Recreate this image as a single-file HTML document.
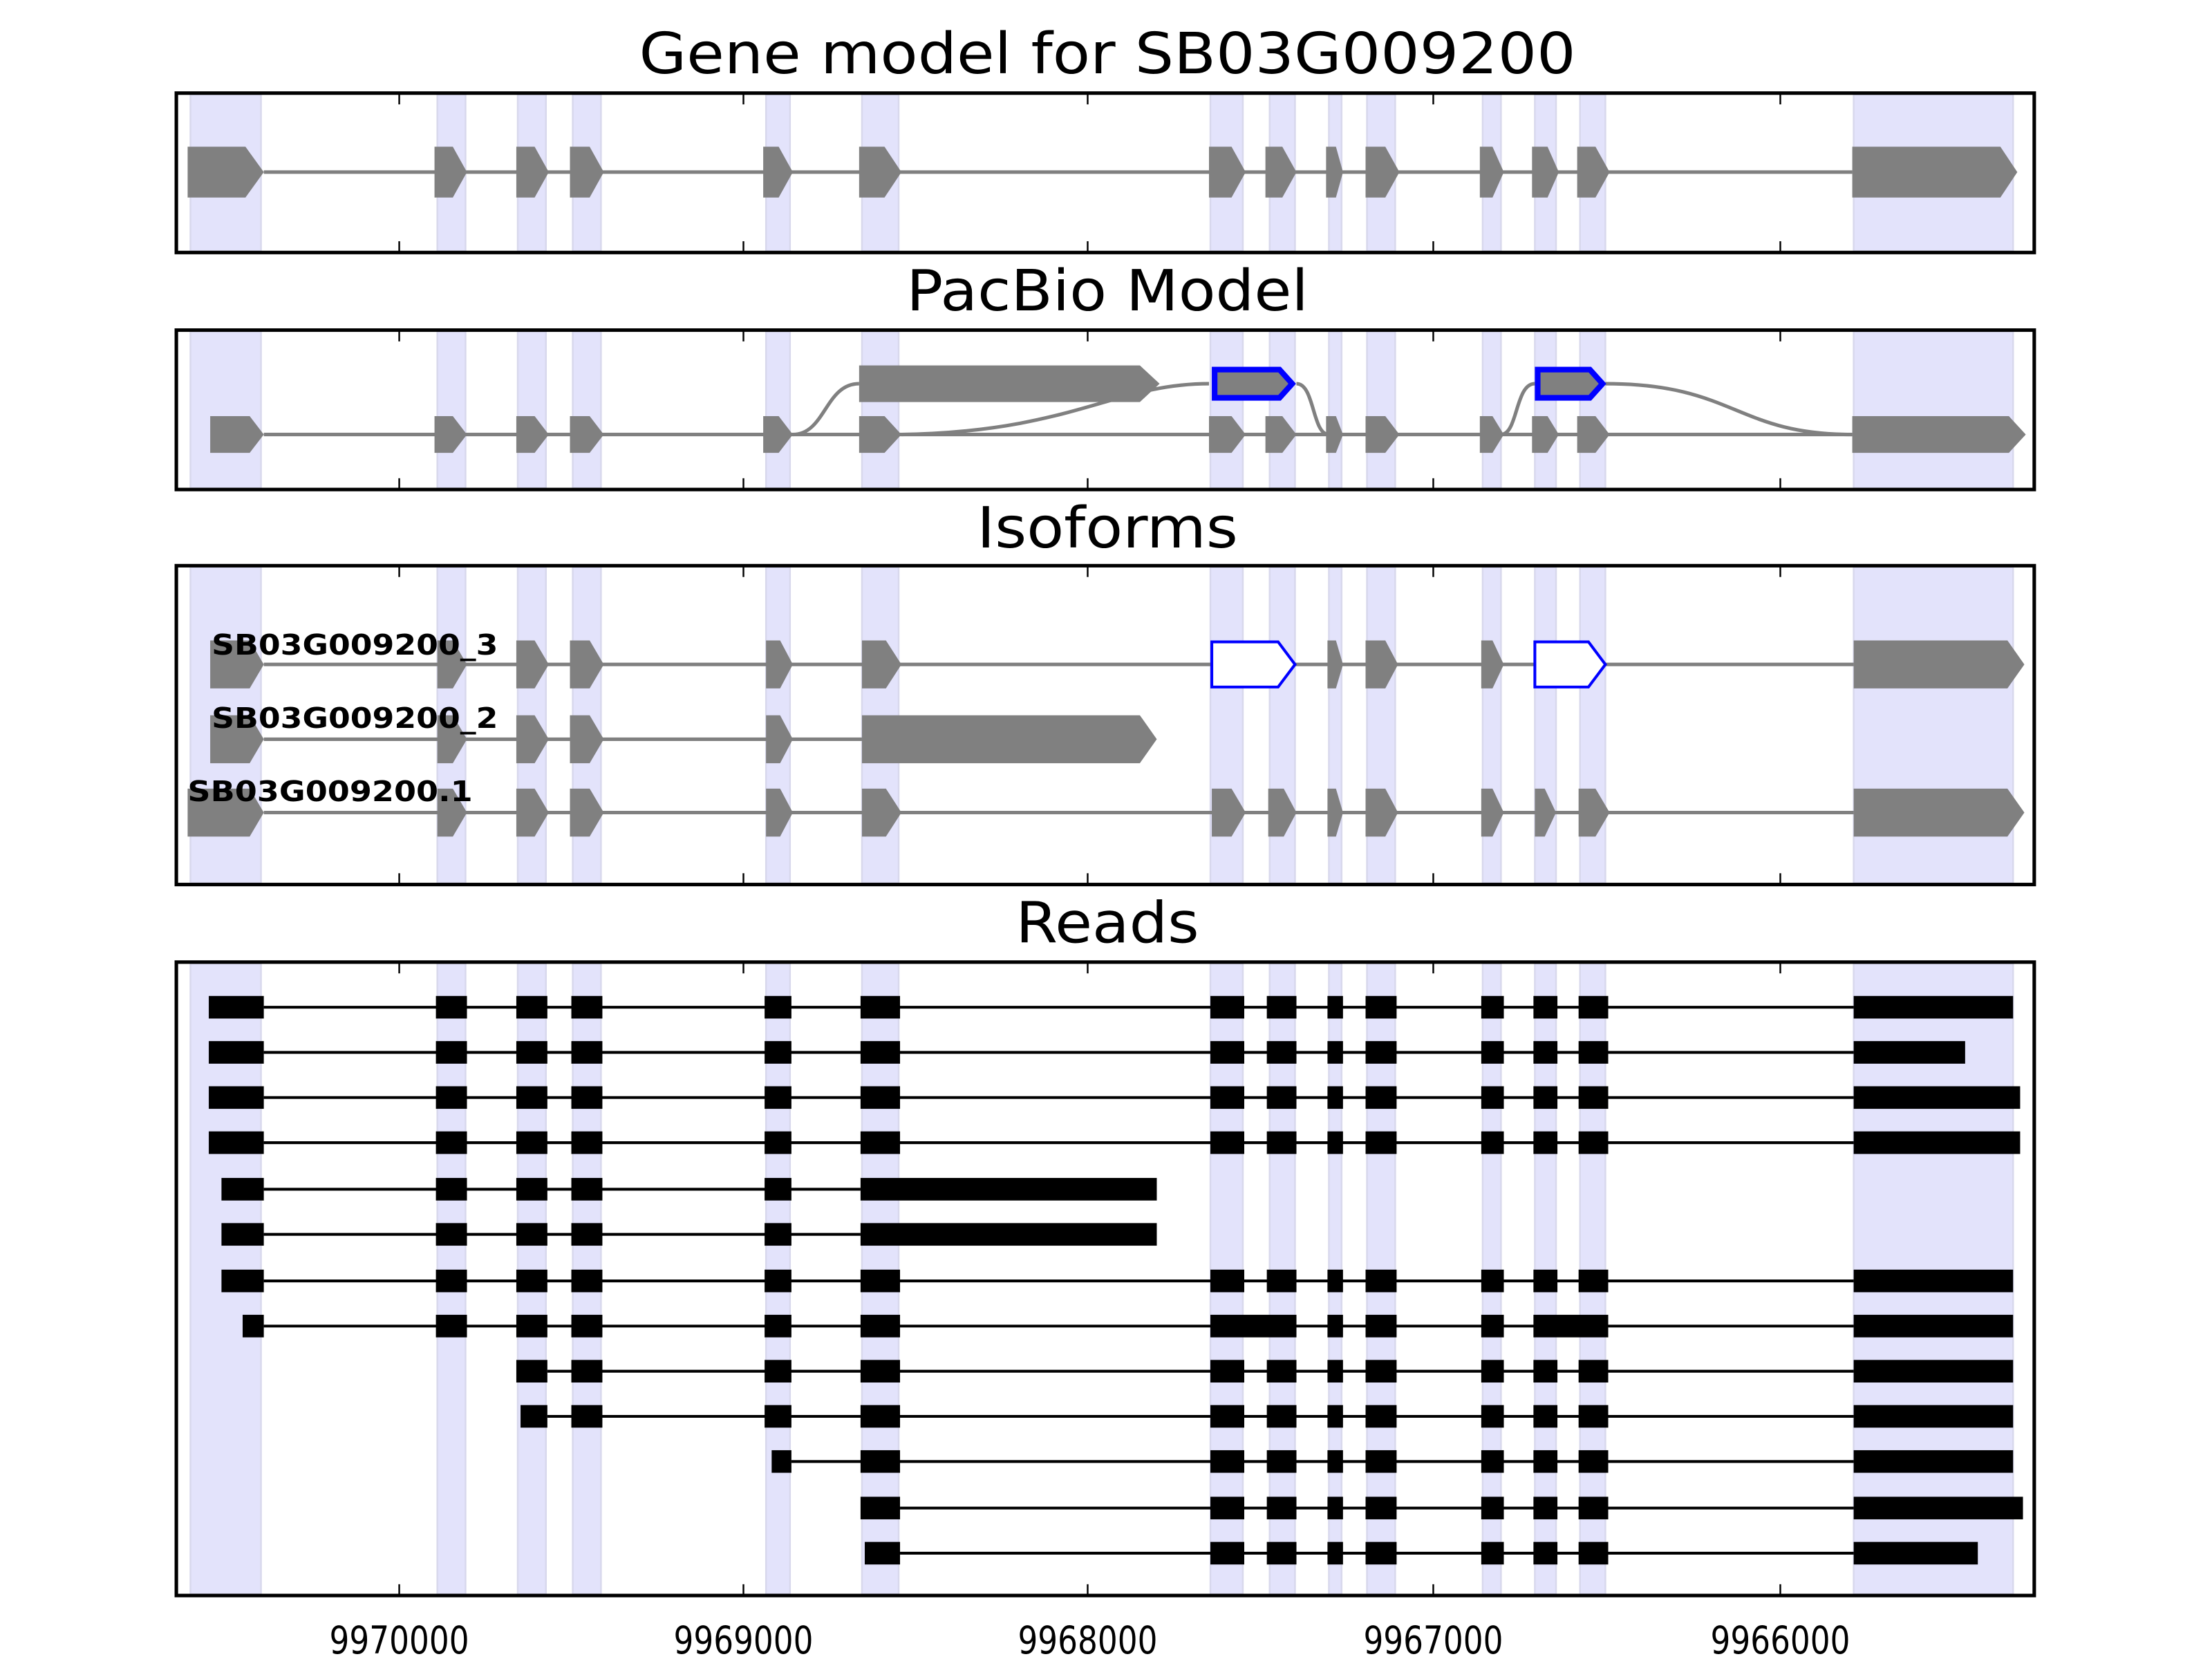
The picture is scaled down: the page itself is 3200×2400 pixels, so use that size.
<!DOCTYPE html>
<html><head><meta charset="utf-8"><style>
html,body{margin:0;padding:0;background:#fff;}
svg{display:block;}
</style></head><body>
<svg width="3200" height="2400" viewBox="0 0 1568 1176" xmlns="http://www.w3.org/2000/svg" font-family="'DejaVu Sans','Liberation Sans',sans-serif">
<text x="785" y="52" font-size="40" text-anchor="middle" textLength="664" lengthAdjust="spacingAndGlyphs">Gene model for SB03G009200</text>
<text x="785" y="220" font-size="40" text-anchor="middle" textLength="285" lengthAdjust="spacingAndGlyphs">PacBio Model</text>
<text x="785" y="388" font-size="40" text-anchor="middle" textLength="185" lengthAdjust="spacingAndGlyphs">Isoforms</text>
<text x="785" y="668" font-size="40" text-anchor="middle" textLength="130" lengthAdjust="spacingAndGlyphs">Reads</text>

<g fill="#e3e3fb" stroke="#d8d8ec" stroke-width="1.2">
<g id="cols1">
<rect x="135" y="67" width="50" height="111"/><rect x="310" y="67" width="20" height="111"/><rect x="367" y="67" width="20" height="111"/><rect x="406" y="67" width="20" height="111"/><rect x="543" y="67" width="17" height="111"/><rect x="611" y="67" width="26" height="111"/><rect x="858" y="67" width="23" height="111"/><rect x="900" y="67" width="18" height="111"/><rect x="942" y="67" width="9" height="111"/><rect x="969" y="67" width="20" height="111"/><rect x="1051" y="67" width="13" height="111"/><rect x="1088" y="67" width="15" height="111"/><rect x="1120" y="67" width="18" height="111"/><rect x="1314" y="67" width="113" height="111"/>
</g>
<use href="#cols1" y="168"/>
<rect x="135" y="402" width="50" height="224"/><rect x="310" y="402" width="20" height="224"/><rect x="367" y="402" width="20" height="224"/><rect x="406" y="402" width="20" height="224"/><rect x="543" y="402" width="17" height="224"/><rect x="611" y="402" width="26" height="224"/><rect x="858" y="402" width="23" height="224"/><rect x="900" y="402" width="18" height="224"/><rect x="942" y="402" width="9" height="224"/><rect x="969" y="402" width="20" height="224"/><rect x="1051" y="402" width="13" height="224"/><rect x="1088" y="402" width="15" height="224"/><rect x="1120" y="402" width="18" height="224"/><rect x="1314" y="402" width="113" height="224"/>
<rect x="135" y="683" width="50" height="447"/><rect x="310" y="683" width="20" height="447"/><rect x="367" y="683" width="20" height="447"/><rect x="406" y="683" width="20" height="447"/><rect x="543" y="683" width="17" height="447"/><rect x="611" y="683" width="26" height="447"/><rect x="858" y="683" width="23" height="447"/><rect x="900" y="683" width="18" height="447"/><rect x="942" y="683" width="9" height="447"/><rect x="969" y="683" width="20" height="447"/><rect x="1051" y="683" width="13" height="447"/><rect x="1088" y="683" width="15" height="447"/><rect x="1120" y="683" width="18" height="447"/><rect x="1314" y="683" width="113" height="447"/>
</g>

<line x1="187" y1="122" x2="1313" y2="122" stroke="#808080" stroke-width="2.5"/>
<g fill="#808080">
<polygon points="133,104 174,104 187,122 174,140 133,140"/>
<polygon points="308,104 321,104 331,122 321,140 308,140"/>
<polygon points="366,104 379,104 389,122 379,140 366,140"/>
<polygon points="404,104 418,104 428,122 418,140 404,140"/>
<polygon points="541,104 552,104 562,122 552,140 541,140"/>
<polygon points="609,104 627,104 639,122 627,140 609,140"/>
<polygon points="857,104 873,104 883,122 873,140 857,140"/>
<polygon points="897,104 909,104 919,122 909,140 897,140"/>
<polygon points="940,104 947,104 952,122 947,140 940,140"/>
<polygon points="968,104 982,104 992,122 982,140 968,140"/>
<polygon points="1049,104 1058,104 1066,122 1058,140 1049,140"/>
<polygon points="1086,104 1097,104 1105,122 1097,140 1086,140"/>
<polygon points="1118,104 1131,104 1141,122 1131,140 1118,140"/>
<polygon points="1313,104 1418,104 1430,122 1418,140 1313,140"/>
</g>

<g fill="none" stroke="#808080" stroke-width="2.5">
<line x1="187" y1="308" x2="1313" y2="308"/>
<path d="M562,308 C585,308 585,272 609,272"/>
<path d="M639,308 C760,306 790,272 857,272"/>
<path d="M919,272 C932,272 930,308 942,308"/>
<path d="M1064,308 C1076,308 1074,272 1088,272"/>
<path d="M1138,272 C1230,272 1230,308 1313,308"/>
</g>
<g fill="#808080">
<polygon points="149,295 177,295 187,308 177,321 149,321"/>
<polygon points="308,295 321,295 331,308 321,321 308,321"/>
<polygon points="366,295 379,295 389,308 379,321 366,321"/>
<polygon points="404,295 418,295 428,308 418,321 404,321"/>
<polygon points="541,295 552,295 562,308 552,321 541,321"/>
<polygon points="609,295 627,295 639,308 627,321 609,321"/>
<polygon points="857,295 873,295 883,308 873,321 857,321"/>
<polygon points="897,295 909,295 919,308 909,321 897,321"/>
<polygon points="940,295 947,295 952,308 947,321 940,321"/>
<polygon points="968,295 982,295 992,308 982,321 968,321"/>
<polygon points="1049,295 1058,295 1066,308 1058,321 1049,321"/>
<polygon points="1086,295 1097,295 1105,308 1097,321 1086,321"/>
<polygon points="1118,295 1131,295 1141,308 1131,321 1118,321"/>
<polygon points="1313,295 1424,295 1436,308 1424,321 1313,321"/>
<polygon points="609,259 808,259 822,272 808,285 609,285"/>
</g>
<g fill="#808080" stroke="#0000ff" stroke-width="4">
<polygon points="861,262 907,262 916,272 907,282 861,282"/>
<polygon points="1090,262 1127,262 1136,272 1127,282 1090,282"/>
</g>

<g stroke="#808080" stroke-width="2.5">
<line x1="187" y1="471" x2="1314" y2="471"/>
<line x1="187" y1="524" x2="611" y2="524"/>
<line x1="187" y1="576" x2="1314" y2="576"/>
</g>
<g fill="#808080">
<polygon points="149,454 177,454 187,471 177,488 149,488"/>
<polygon points="310,454 321,454 331,471 321,488 310,488"/>
<polygon points="366,454 379,454 389,471 379,488 366,488"/>
<polygon points="404,454 418,454 428,471 418,488 404,488"/>
<polygon points="543,454 553,454 562,471 553,488 543,488"/>
<polygon points="611,454 628,454 639,471 628,488 611,488"/>
<polygon points="941,454 947,454 952,471 947,488 941,488"/>
<polygon points="968,454 982,454 991,471 982,488 968,488"/>
<polygon points="1050,454 1058,454 1066,471 1058,488 1050,488"/>
<polygon points="1314,454 1423,454 1435,471 1423,488 1314,488"/>
<polygon points="149,507 177,507 187,524 177,541 149,541"/>
<polygon points="310,507 321,507 331,524 321,541 310,541"/>
<polygon points="366,507 379,507 389,524 379,541 366,541"/>
<polygon points="404,507 418,507 428,524 418,541 404,541"/>
<polygon points="543,507 553,507 562,524 553,541 543,541"/>
<polygon points="611,507 808,507 820,524 808,541 611,541"/>
<polygon points="133,559 177,559 187,576 177,593 133,593"/>
<polygon points="310,559 321,559 331,576 321,593 310,593"/>
<polygon points="366,559 379,559 389,576 379,593 366,593"/>
<polygon points="404,559 418,559 428,576 418,593 404,593"/>
<polygon points="543,559 553,559 562,576 553,593 543,593"/>
<polygon points="611,559 628,559 639,576 628,593 611,593"/>
<polygon points="859,559 873,559 883,576 873,593 859,593"/>
<polygon points="899,559 910,559 919,576 910,593 899,593"/>
<polygon points="941,559 947,559 952,576 947,593 941,593"/>
<polygon points="968,559 982,559 991,576 982,593 968,593"/>
<polygon points="1050,559 1058,559 1066,576 1058,593 1050,593"/>
<polygon points="1088,559 1095,559 1103,576 1095,593 1088,593"/>
<polygon points="1119,559 1131,559 1141,576 1131,593 1119,593"/>
<polygon points="1314,559 1423,559 1435,576 1423,593 1314,593"/>
</g>
<g fill="#fff" stroke="#0000ff" stroke-width="2">
<polygon points="859,455 906,455 918,471 906,487 859,487"/>
<polygon points="1088,455 1126,455 1138,471 1126,487 1088,487"/>
</g>
<g font-weight="bold" font-size="20" fill="#000">
<text x="150" y="464" textLength="203" lengthAdjust="spacingAndGlyphs">SB03G009200_3</text>
<text x="150" y="516" textLength="203" lengthAdjust="spacingAndGlyphs">SB03G009200_2</text>
<text x="133" y="568" textLength="202" lengthAdjust="spacingAndGlyphs">SB03G009200.1</text>
</g>

<g stroke="#000" stroke-width="2">
<line x1="187" y1="714" x2="1314" y2="714"/>
<line x1="187" y1="746" x2="1314" y2="746"/>
<line x1="187" y1="778" x2="1314" y2="778"/>
<line x1="187" y1="810" x2="1314" y2="810"/>
<line x1="187" y1="843" x2="610" y2="843"/>
<line x1="187" y1="875" x2="610" y2="875"/>
<line x1="187" y1="908" x2="1314" y2="908"/>
<line x1="187" y1="940" x2="1314" y2="940"/>
<line x1="388" y1="972" x2="1314" y2="972"/>
<line x1="388" y1="1004" x2="1314" y2="1004"/>
<line x1="561" y1="1036" x2="1314" y2="1036"/>
<line x1="638" y1="1069" x2="1314" y2="1069"/>
<line x1="638" y1="1101" x2="1314" y2="1101"/>
</g>
<g fill="#000">
<g id="mid1">
<rect x="309" y="706" width="22" height="16"/><rect x="366" y="706" width="22" height="16"/><rect x="405" y="706" width="22" height="16"/><rect x="542" y="706" width="19" height="16"/><rect x="610" y="706" width="28" height="16"/>
</g>
<g id="right1">
<rect x="858" y="706" width="24" height="16"/><rect x="898" y="706" width="21" height="16"/><rect x="941" y="706" width="11" height="16"/><rect x="968" y="706" width="22" height="16"/><rect x="1050" y="706" width="16" height="16"/><rect x="1087" y="706" width="17" height="16"/><rect x="1119" y="706" width="21" height="16"/>
</g>
<rect x="148" y="706" width="39" height="16"/><rect x="1314" y="706" width="113" height="16"/>
<use href="#mid1" y="32"/><use href="#right1" y="32"/>
<rect x="148" y="738" width="39" height="16"/><rect x="1314" y="738" width="79" height="16"/>
<use href="#mid1" y="64"/><use href="#right1" y="64"/>
<rect x="148" y="770" width="39" height="16"/><rect x="1314" y="770" width="118" height="16"/>
<use href="#mid1" y="96"/><use href="#right1" y="96"/>
<rect x="148" y="802" width="39" height="16"/><rect x="1314" y="802" width="118" height="16"/>
<rect x="157" y="835" width="30" height="16"/>
<rect x="309" y="835" width="22" height="16"/><rect x="366" y="835" width="22" height="16"/><rect x="405" y="835" width="22" height="16"/><rect x="542" y="835" width="19" height="16"/><rect x="610" y="835" width="210" height="16"/>
<rect x="157" y="867" width="30" height="16"/>
<rect x="309" y="867" width="22" height="16"/><rect x="366" y="867" width="22" height="16"/><rect x="405" y="867" width="22" height="16"/><rect x="542" y="867" width="19" height="16"/><rect x="610" y="867" width="210" height="16"/>
<use href="#mid1" y="194"/><use href="#right1" y="194"/>
<rect x="157" y="900" width="30" height="16"/><rect x="1314" y="900" width="113" height="16"/>
<use href="#mid1" y="226"/>
<rect x="172" y="932" width="15" height="16"/>
<rect x="858" y="932" width="61" height="16"/><rect x="941" y="932" width="11" height="16"/><rect x="968" y="932" width="22" height="16"/><rect x="1050" y="932" width="16" height="16"/><rect x="1087" y="932" width="53" height="16"/>
<rect x="1314" y="932" width="113" height="16"/>
<rect x="366" y="964" width="22" height="16"/><rect x="405" y="964" width="22" height="16"/><rect x="542" y="964" width="19" height="16"/><rect x="610" y="964" width="28" height="16"/>
<use href="#right1" y="258"/><rect x="1314" y="964" width="113" height="16"/>
<rect x="369" y="996" width="19" height="16"/><rect x="405" y="996" width="22" height="16"/><rect x="542" y="996" width="19" height="16"/><rect x="610" y="996" width="28" height="16"/>
<use href="#right1" y="290"/><rect x="1314" y="996" width="113" height="16"/>
<rect x="547" y="1028" width="14" height="16"/><rect x="610" y="1028" width="28" height="16"/>
<use href="#right1" y="322"/><rect x="1314" y="1028" width="113" height="16"/>
<rect x="610" y="1061" width="28" height="16"/>
<use href="#right1" y="355"/><rect x="1314" y="1061" width="120" height="16"/>
<rect x="613" y="1093" width="25" height="16"/>
<use href="#right1" y="387"/><rect x="1314" y="1093" width="88" height="16"/>
</g>

<g fill="none" stroke="#000" stroke-width="2.5">
<rect x="125" y="66" width="1317" height="113"/>
<rect x="125" y="234" width="1317" height="113"/>
<rect x="125" y="401" width="1317" height="226"/>
<rect x="125" y="682" width="1317" height="449"/>
</g>
<g stroke="#000" stroke-width="1.2">
<g id="tk">
<line x1="283" y1="66" x2="283" y2="74"/><line x1="527" y1="66" x2="527" y2="74"/><line x1="771" y1="66" x2="771" y2="74"/><line x1="1016" y1="66" x2="1016" y2="74"/><line x1="1262" y1="66" x2="1262" y2="74"/>
</g>
<use href="#tk" y="105"/>
<use href="#tk" y="168"/><use href="#tk" y="273"/>
<use href="#tk" y="335"/><use href="#tk" y="553"/>
<use href="#tk" y="616"/><use href="#tk" y="1057"/>
</g>
<g font-size="27" text-anchor="middle">
<text x="283" y="1172" textLength="99" lengthAdjust="spacingAndGlyphs">9970000</text>
<text x="527" y="1172" textLength="99" lengthAdjust="spacingAndGlyphs">9969000</text>
<text x="771" y="1172" textLength="99" lengthAdjust="spacingAndGlyphs">9968000</text>
<text x="1016" y="1172" textLength="99" lengthAdjust="spacingAndGlyphs">9967000</text>
<text x="1262" y="1172" textLength="99" lengthAdjust="spacingAndGlyphs">9966000</text>
</g>
</svg>
</body></html>
